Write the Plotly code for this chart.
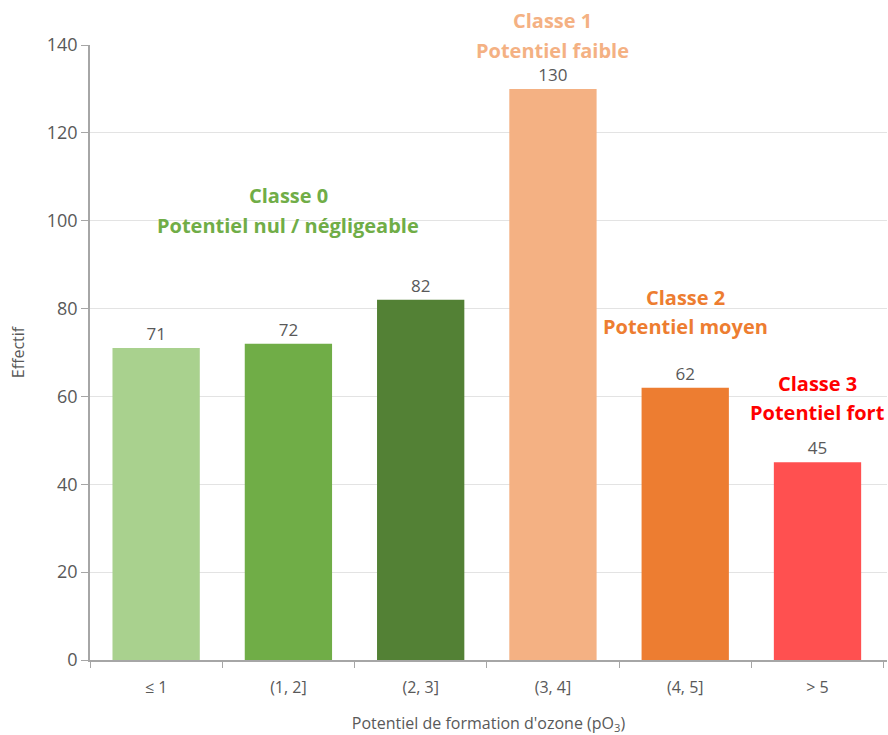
import plotly.graph_objects as go

categories = ["≤ 1", "(1, 2]", "(2, 3]", "(3, 4]", "(4, 5]", "> 5"]
values = [71, 72, 82, 130, 62, 45]
bar_colors = ["#A9D18E", "#70AD47", "#538135", "#F4B183", "#ED7D31", "#FF5050"]

class_titles = ["Classe 0", "Classe 1", "Classe 2", "Classe 3"]
class_subtitles = ["Potentiel nul / négligeable", "Potentiel faible", "Potentiel moyen", "Potentiel fort"]
class_x = ["(1, 2]", "(3, 4]", "(4, 5]", "> 5"]
class_y_title = [105.8, 145.6, 82.5, 62.9]
class_y_sub = [98.8, 138.8, 75.9, 56.3]
class_colors = ["#70AD47", "#F4B183", "#ED7D31", "#FF0000"]

Y_MAX = 140
FONT = "Open Sans"
GRAY = "#595959"

fig = go.Figure()
fig.add_trace(go.Bar(
    x=categories, y=values,
    marker=dict(color=bar_colors, line=dict(width=0)),
    text=[str(v) for v in values], textposition="outside",
    textfont=dict(family=FONT, size=17, color=GRAY),
    cliponaxis=False, width=0.66,
))

for t, s, x, yt, ys, c in zip(class_titles, class_subtitles, class_x, class_y_title, class_y_sub, class_colors):
    fig.add_annotation(x=x, y=yt / Y_MAX, xref="x", yref="paper", text="<b>%s</b>" % t, showarrow=False,
                       font=dict(family=FONT, size=20, color=c), yanchor="middle")
    fig.add_annotation(x=x, y=ys / Y_MAX, xref="x", yref="paper", text="<b>%s</b>" % s, showarrow=False,
                       font=dict(family=FONT, size=20, color=c), yanchor="middle")

fig.update_layout(
    width=888, height=735,
    margin=dict(l=90, r=1, t=45, b=75),
    paper_bgcolor="white", plot_bgcolor="white",
    showlegend=False,
    font=dict(family=FONT, color=GRAY),
    xaxis=dict(
        type="category", showline=True, linecolor="#A6A6A6", linewidth=1.5,
        ticks="outside", tickson="boundaries", ticklen=6, tickcolor="#A6A6A6",
        tickfont=dict(family=FONT, size=16, color=GRAY), showgrid=False,
        ticklabelstandoff=12,
        title=dict(text="Potentiel de formation d'ozone (pO<sub>3</sub>)",
                   font=dict(family=FONT, size=16, color=GRAY), standoff=23),
    ),
    yaxis=dict(
        range=[0, Y_MAX], dtick=20, showline=True, linecolor="#A6A6A6", linewidth=1.5,
        ticks="outside", ticklen=7, tickcolor="#A6A6A6",
        gridcolor="#E3E3E3", gridwidth=1.2, zeroline=False,
        tickfont=dict(family=FONT, size=18, color=GRAY),
        title=dict(text="Effectif", font=dict(family=FONT, size=16, color=GRAY), standoff=18),
    ),
    bargap=0.34,
)

fig.write_html("out.html")
